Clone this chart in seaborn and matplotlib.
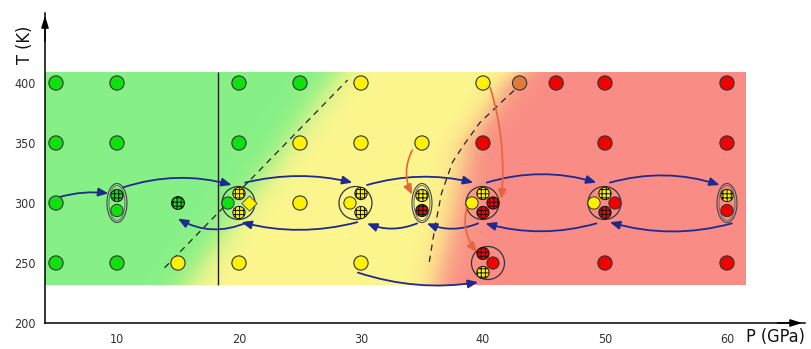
import numpy as np
import pandas as pd
import matplotlib
matplotlib.use("Agg")
import matplotlib.pyplot as plt
import seaborn as sns
from matplotlib.patches import Ellipse, FancyArrowPatch

# --- Daten -------------------------------------------------------------
# Einzelne Messpunkte: Druck (GPa), Temperatur (K), Phase, schraffiert?
single_p = [5, 10, 20, 25, 30, 40, 43, 46, 50, 60,
            5, 10, 20, 25, 30, 35, 40, 50, 60,
            5, 15, 25,
            5, 10, 15, 20, 30, 50, 60]
single_t = [400] * 10 + [350] * 9 + [300] * 3 + [250] * 7
single_phase = ["g", "g", "g", "g", "y", "y", "o", "r", "r", "r",
                "g", "g", "g", "y", "y", "y", "r", "r", "r",
                "g", "g", "y",
                "g", "g", "y", "y", "y", "r", "r"]
single_hatch = [False] * 20 + [True] + [False] * 8

# Koexistenz-Gruppen (Kreis / Ellipse mit mehreren Phasen)
cluster_p = [10, 20, 30, 35, 40, 50, 60, 40]
cluster_t = [300, 300, 300, 300, 300, 300, 300, 250]
cluster_shape = ["ellipse", "circle", "circle", "ellipse",
                 "circle", "circle", "ellipse", "circle"]
# (Platz, Phase, Stil)
cluster_members = [
    [("U", "g", "hatch"), ("D", "g", "plain")],
    [("L", "g", "plain"), ("T", "y", "hatch"), ("R", "y", "diamond"), ("B", "y", "hatch")],
    [("L", "y", "plain"), ("T", "y", "hatch"), ("B", "y", "hatch")],
    [("U", "y", "hatch"), ("D", "r", "hatch")],
    [("L", "y", "plain"), ("T", "y", "hatch"), ("R", "r", "hatch"), ("B", "r", "hatch")],
    [("L", "y", "plain"), ("T", "y", "hatch"), ("R", "r", "plain"), ("B", "r", "hatch")],
    [("U", "y", "hatch"), ("D", "r", "plain")],
    [("T", "r", "hatch"), ("R", "r", "plain"), ("B", "y", "hatch")],
]

# Übergänge (blau: Druck, rot: Temperatur)
blue_p0 = [5.3, 10.5, 20.7, 20.5, 29.7, 30.5, 34.6, 39.6, 40.3, 50.4, 60.4, 49.3, 29.75]
blue_t0 = [305, 313, 284, 317, 284, 315, 283, 283, 317, 317, 283, 283, 242]
blue_p1 = [9.3, 19.4, 15.0, 29.3, 20.2, 39.2, 30.5, 35.4, 49.3, 59.4, 50.4, 40.2, 39.6]
blue_t1 = [308, 315, 287, 317, 284, 317, 283, 283, 317, 315, 284, 283, 234]
blue_rad = [-0.1, -0.15, -0.25, -0.12, -0.13, -0.13, -0.2, -0.2, -0.15, -0.15, -0.14, -0.14, 0.12]

red_p0 = [34.2, 40.6, 38.7]
red_t0 = [344, 396, 297]
red_p1 = [34.2, 41.5, 39.5]
red_t1 = [307, 303, 259]
red_rad = [0.25, -0.1, 0.25]

# Phasengrenzen
line_p = [13.9, 28.9]
line_t = [246, 402.5]
curve_p = [35.6, 36.1, 36.6, 37.5, 38.4, 39.75, 41.4, 43.0]
curve_t = [251, 282, 308, 334, 348, 367, 383, 398]
vline_p = 18.3

# Farbverläufe im Hintergrund (Mitte des Übergangs)
front_gy_t = [232, 300, 350, 409]
front_gy_p = [15.8, 20.5, 24.0, 28.1]
front_yr_t = [232, 250, 300, 350, 400, 409]
front_yr_p = [36.2, 36.6, 37.8, 38.7, 42.0, 43.0]

x_major = [10, 20, 30, 40, 50, 60]
x_minor = [5, 15, 25, 35, 45, 55]
y_ticks = [200, 250, 300, 350, 400]

# --- Stil --------------------------------------------------------------
sns.set_style("white")
plt.rcParams["font.family"] = ["Liberation Sans Narrow", "DejaVu Sans"]
plt.rcParams["font.stretch"] = "condensed"
plt.rcParams["hatch.linewidth"] = 0.7

phase_colors = {"g": "#10E010", "y": "#FFF200", "r": "#F00000", "o": "#E07A38"}
bg_green = np.array([134, 240, 134]) / 255
bg_yellow = np.array([253, 246, 142]) / 255
bg_red = np.array([249, 141, 133]) / 255

W, H = 811, 349
fig = plt.figure(figsize=(W / 100, H / 100), dpi=100)
ax_l, ax_b, ax_w, ax_h = 45, 26, 760, 310   # Pixel
ax = fig.add_axes([ax_l / W, ax_b / H, ax_w / W, ax_h / H])
xlim = (4.1, 4.1 + ax_w / 12.2)
ylim = (200, 200 + ax_h / 1.2)
ax.set_xlim(*xlim)
ax.set_ylim(*ylim)
px_p = (xlim[1] - xlim[0]) / ax_w   # GPa pro Pixel
px_t = (ylim[1] - ylim[0]) / ax_h   # K pro Pixel

# Hintergrund
bg_p0, bg_p1, bg_t0, bg_t1 = xlim[0], 61.5, 231.7, 409.2
pp, tt = np.meshgrid(np.linspace(bg_p0, bg_p1, 500), np.linspace(bg_t0, bg_t1, 200))
s1 = 1 / (1 + np.exp(-(pp - np.interp(tt, front_gy_t, front_gy_p)) / 0.8))
s2 = 1 / (1 + np.exp(-(pp - np.interp(tt, front_yr_t, front_yr_p)) / 0.7))
rgb = (bg_green * ((1 - s1) * (1 - s2))[..., None]
       + bg_yellow * (s1 * (1 - s2))[..., None]
       + bg_red * s2[..., None])
ax.imshow(rgb, extent=[bg_p0, bg_p1, bg_t0, bg_t1], origin="lower",
          aspect="auto", interpolation="bilinear", zorder=0)

# Linien
ax.vlines(vline_p, bg_t0, bg_t1, color="#222222", lw=1.0, zorder=1)
ax.plot(line_p, line_t, color="#222222", lw=0.9, dashes=(5, 4), zorder=1)
ax.plot(curve_p, curve_t, color="#222222", lw=0.9, dashes=(5, 4), zorder=1)

# Einzelpunkte
single = pd.DataFrame({"P": single_p, "T": single_t,
                       "phase": single_phase, "hatch": single_hatch})
sns.scatterplot(data=single[~single.hatch], x="P", y="T", hue="phase",
                palette=phase_colors, s=105, edgecolor="#333333", linewidth=0.8,
                legend=False, ax=ax, zorder=5)
sns.scatterplot(data=single[single.hatch], x="P", y="T", hue="phase",
                palette=phase_colors, s=85, edgecolor="#111111", linewidth=0.8,
                hatch="++++", legend=False, ax=ax, zorder=5)

# Gruppen
slot_px = {"L": (-11, 0), "T": (0, -9.5), "R": (10, 0), "B": (0, 9.5),
           "U": (0, -7.5), "D": (0, 7.5)}
rows = []
for cp, ct, shape, members in zip(cluster_p, cluster_t, cluster_shape, cluster_members):
    xs, ys = [], []
    for slot, phase, style in members:
        dx, dy = slot_px[slot]
        mp, mt = cp + dx * px_p, ct - dy * px_t
        xs.append(mp)
        ys.append(mt)
        rows.append({"P": mp, "T": mt, "phase": phase, "style": style})
    cx, cy = (min(xs) + max(xs)) / 2, (min(ys) + max(ys)) / 2
    if shape == "circle":
        ax.add_patch(Ellipse((cx, cy), 33 * px_p, 33 * px_t, fill=False,
                             ec="#333333", lw=0.9, zorder=2))
    else:
        ax.add_patch(Ellipse((cx, cy), 20 * px_p, 39 * px_t, fill=False,
                             ec="#444444", lw=0.8, zorder=2))
        ax.add_patch(Ellipse((cx, cy), 16 * px_p, 35 * px_t, fill=False,
                             ec="#666666", lw=0.7, zorder=2))
members_df = pd.DataFrame(rows)
sns.scatterplot(data=members_df[members_df["style"] == "plain"], x="P", y="T", hue="phase",
                palette=phase_colors, s=78, edgecolor="#333333", linewidth=0.7,
                legend=False, ax=ax, zorder=5)
sns.scatterplot(data=members_df[members_df["style"] == "hatch"], x="P", y="T", hue="phase",
                palette=phase_colors, s=78, edgecolor="#111111", linewidth=0.7,
                hatch="++++", legend=False, ax=ax, zorder=5)
sns.scatterplot(data=members_df[members_df["style"] == "diamond"], x="P", y="T", hue="phase",
                palette=phase_colors, s=60, marker="D", edgecolor="#555555", linewidth=0.7,
                legend=False, ax=ax, zorder=5)

# Pfeile
def draw_arrows(p0, t0, p1, t1, rads, color, lw):
    for a, b, c, d, r in zip(p0, t0, p1, t1, rads):
        ax.add_patch(FancyArrowPatch((a, b), (c, d), connectionstyle=f"arc3,rad={r}",
                                     arrowstyle="-|>,head_length=0.6,head_width=0.25",
                                     mutation_scale=10, color=color, lw=lw,
                                     shrinkA=0, shrinkB=0, zorder=3))

draw_arrows(blue_p0, blue_t0, blue_p1, blue_t1, blue_rad, "#1E2A8E", 1.3)
draw_arrows(red_p0, red_t0, red_p1, red_t1, red_rad, "#E8643C", 1.2)

# Achsen
sns.despine(ax=ax)
for side in ("left", "bottom"):
    ax.spines[side].set_color("black")
    ax.spines[side].set_linewidth(1.1)
ax.set_xticks(x_major)
ax.set_xticks(x_minor, minor=True)
ax.set_yticks(y_ticks)
ax.tick_params(axis="both", which="both", direction="out", length=4.5, width=0.9,
               color="#222222", labelsize=9, labelcolor="#333333")
ax.tick_params(axis="x", pad=3)
ax.tick_params(axis="y", pad=2)
ax.set_xlabel("")
ax.set_ylabel("")
arrow_head = dict(arrowstyle="-|>,head_length=0.7,head_width=0.22", color="black", lw=1.1)
ax.annotate("", xy=(1.0, 0), xytext=(0.96, 0), xycoords="axes fraction",
            arrowprops=arrow_head, annotation_clip=False)
ax.annotate("", xy=(0, 1.0), xytext=(0, 0.9), xycoords="axes fraction",
            arrowprops=arrow_head, annotation_clip=False)
fig.text(746 / W, 1 - 337 / H, "P (GPa)", fontsize=13, ha="left", va="center", color="#111111")
fig.text(25 / W, 1 - 45 / H, "T (K)", fontsize=13, rotation=90, ha="center", va="center",
         color="#111111")

fig.savefig("out.png", dpi=100)
